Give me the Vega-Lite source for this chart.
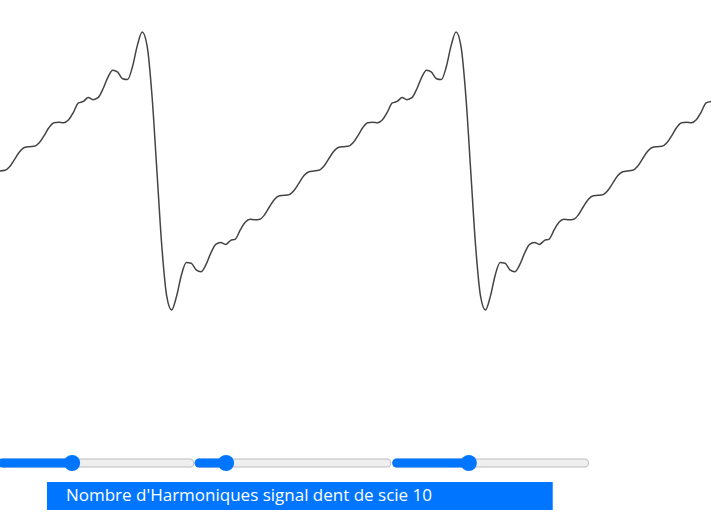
{
"$schema":"https://vega.github.io/schema/vega-lite/v6.json",
"width":711,"height":521,"padding":0,"autosize":{"type":"none"},
"background":"white",
"config":{"view":{"stroke":null}},
"datasets":{"wave":[
{"j":0,"v":0},{"j":1,"v":0.0081},{"j":2,"v":0.0561},{"j":3,"v":0.1452},{"j":4,"v":0.2369},{"j":5,"v":0.2894},{"j":6,"v":0.2986},{"j":7,"v":0.3025},{"j":8,"v":0.3457},{"j":9,"v":0.4352},{"j":10,"v":0.5333},{"j":11,"v":0.5914},{"j":12,"v":0.5983},{"j":13,"v":0.5929},{"j":14,"v":0.6291},{"j":15,"v":0.7233},{"j":16,"v":0.8349},{"j":17,"v":0.8533},{"j":18,"v":0.9011},{"j":19,"v":0.8757},{"j":20,"v":0.8999},{"j":21,"v":1.0066},{"j":22,"v":1.1495},{"j":23,"v":1.2354},{"j":24,"v":1.2123},{"j":25,"v":1.1319},{"j":26,"v":1.122},{"j":27,"v":1.275},{"j":28,"v":1.5385},{"j":29,"v":1.7056},{"j":30,"v":1.5353},{"j":31,"v":0.9231},
{"j":32,"v":0},{"j":33,"v":-0.9231},{"j":34,"v":-1.5353},{"j":35,"v":-1.7056},{"j":36,"v":-1.5385},{"j":37,"v":-1.275},{"j":38,"v":-1.122},{"j":39,"v":-1.1319},{"j":40,"v":-1.2123},{"j":41,"v":-1.2354},{"j":42,"v":-1.1495},{"j":43,"v":-1.0066},{"j":44,"v":-0.8999},{"j":45,"v":-0.8757},{"j":46,"v":-0.9011},{"j":47,"v":-0.8533},{"j":48,"v":-0.8349},{"j":49,"v":-0.7233},{"j":50,"v":-0.6291},{"j":51,"v":-0.5929},{"j":52,"v":-0.5983},{"j":53,"v":-0.5914},{"j":54,"v":-0.5333},{"j":55,"v":-0.4352},{"j":56,"v":-0.3457},{"j":57,"v":-0.3025},{"j":58,"v":-0.2986},{"j":59,"v":-0.2894},{"j":60,"v":-0.2369},{"j":61,"v":-0.1452},{"j":62,"v":-0.0561},{"j":63,"v":-0.0081},
{"j":64,"v":0},{"j":65,"v":0.0081},{"j":66,"v":0.0561},{"j":67,"v":0.1452},{"j":68,"v":0.2369},{"j":69,"v":0.2894},{"j":70,"v":0.2986},{"j":71,"v":0.3025},{"j":72,"v":0.3457},{"j":73,"v":0.4352},{"j":74,"v":0.5333},{"j":75,"v":0.5914},{"j":76,"v":0.5983},{"j":77,"v":0.5929},{"j":78,"v":0.6291},{"j":79,"v":0.7233},{"j":80,"v":0.8349},{"j":81,"v":0.8533},{"j":82,"v":0.9011},{"j":83,"v":0.8757},{"j":84,"v":0.8999},{"j":85,"v":1.0066},{"j":86,"v":1.1495},{"j":87,"v":1.2354},{"j":88,"v":1.2123},{"j":89,"v":1.1319},{"j":90,"v":1.122},{"j":91,"v":1.275},{"j":92,"v":1.5385},{"j":93,"v":1.7056},{"j":94,"v":1.5353},{"j":95,"v":0.9231},
{"j":96,"v":0},{"j":97,"v":-0.9231},{"j":98,"v":-1.5353},{"j":99,"v":-1.7056},{"j":100,"v":-1.5385},{"j":101,"v":-1.275},{"j":102,"v":-1.122},{"j":103,"v":-1.1319},{"j":104,"v":-1.2123},{"j":105,"v":-1.2354},{"j":106,"v":-1.1495},{"j":107,"v":-1.0066},{"j":108,"v":-0.8999},{"j":109,"v":-0.8757},{"j":110,"v":-0.9011},{"j":111,"v":-0.8533},{"j":112,"v":-0.8349},{"j":113,"v":-0.7233},{"j":114,"v":-0.6291},{"j":115,"v":-0.5929},{"j":116,"v":-0.5983},{"j":117,"v":-0.5914},{"j":118,"v":-0.5333},{"j":119,"v":-0.4352},{"j":120,"v":-0.3457},{"j":121,"v":-0.3025},{"j":122,"v":-0.2986},{"j":123,"v":-0.2894},{"j":124,"v":-0.2369},{"j":125,"v":-0.1452},{"j":126,"v":-0.0561},{"j":127,"v":-0.0081},
{"j":128,"v":0},{"j":129,"v":0.0081},{"j":130,"v":0.0561},{"j":131,"v":0.1452},{"j":132,"v":0.2369},{"j":133,"v":0.2894},{"j":134,"v":0.2986},{"j":135,"v":0.3025},{"j":136,"v":0.3457},{"j":137,"v":0.4352},{"j":138,"v":0.5333},{"j":139,"v":0.5914},{"j":140,"v":0.5983},{"j":141,"v":0.5929},{"j":142,"v":0.6291},{"j":143,"v":0.7233},{"j":144,"v":0.8349},{"j":145,"v":0.8533}
],
"sliders":[
{"a":0.41,"b":38.7,"k":14.7},
{"a":40.6,"b":78.9,"k":46.1},
{"a":80.9,"b":119.2,"k":95.6}
],
"label":[{"a":9.58,"b":112.72,"t":13.45,"text":"Nombre d'Harmoniques signal dent de scie 10"}]
},
"layer":[
{"data":{"name":"wave"},"mark":{"type":"line","color":"#444444","strokeWidth":1.5,"interpolate":"monotone","clip":true},
 "encoding":{"x":{"field":"j","type":"quantitative","scale":{"domain":[0,145],"nice":false,"zero":false},"axis":null},
 "y":{"field":"v","type":"quantitative","scale":{"domain":[-4.294,2.098],"nice":false,"zero":false},"axis":null}}},
{"data":{"name":"sliders"},"mark":{"type":"rule","color":"#bdbdbd","strokeWidth":9,"strokeCap":"round"},
 "encoding":{"x":{"field":"a","type":"quantitative"},"x2":{"field":"b"},"y":{"datum":-3.583,"type":"quantitative"}}},
{"data":{"name":"sliders"},"mark":{"type":"rule","color":"#efefef","strokeWidth":7,"strokeCap":"round"},
 "encoding":{"x":{"field":"a","type":"quantitative"},"x2":{"field":"b"},"y":{"datum":-3.583,"type":"quantitative"}}},
{"data":{"name":"sliders"},"mark":{"type":"rule","color":"#0075ff","strokeWidth":9,"strokeCap":"round"},
 "encoding":{"x":{"field":"a","type":"quantitative"},"x2":{"field":"k"},"y":{"datum":-3.583,"type":"quantitative"}}},
{"data":{"name":"sliders"},"mark":{"type":"circle","color":"#0075ff","opacity":1,"size":260},
 "encoding":{"x":{"field":"k","type":"quantitative"},"y":{"datum":-3.583,"type":"quantitative"}}},
{"data":{"name":"label"},"mark":{"type":"rect","color":"#0075ff"},
 "encoding":{"x":{"field":"a","type":"quantitative"},"x2":{"field":"b"},"y":{"datum":-3.816,"type":"quantitative"},"y2":{"datum":-4.16}}},
{"data":{"name":"label"},"mark":{"type":"text","color":"white","align":"left","baseline":"middle","fontSize":17,"font":"Open Sans"},
 "encoding":{"x":{"field":"t","type":"quantitative"},"y":{"datum":-3.988,"type":"quantitative"},"text":{"field":"text"}}}
]
}
